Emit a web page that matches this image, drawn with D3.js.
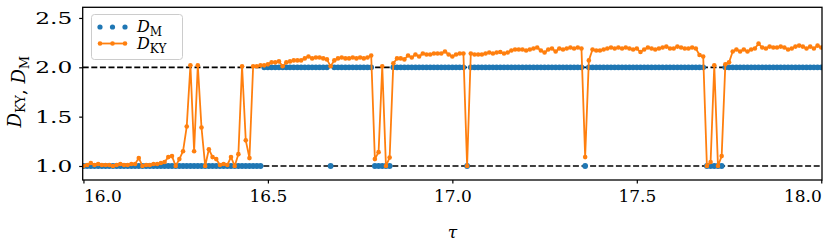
<!DOCTYPE html>
<html>
<head>
<meta charset="utf-8">
<script src="https://cdn.jsdelivr.net/npm/d3@7"></script>
<style>
  html, body { margin: 0; padding: 0; background: #fff; }
  svg { display: block; }
  svg text { font-family: "DejaVu Serif", serif; }
</style>
</head>
<body>
<svg id="chart" width="830" height="249"></svg>
<script>
// Sample grid: tau from 16.00 to 18.00, one sample every 0.01
const tauStart = 16.0;
const tauStep = 0.01;
const sampleCount = 201;

// Kaplan-Yorke dimension (one value per sample)
const dKY = [
    1.00, 1.01, 1.03, 1.01, 1.02, 1.01, 1.01, 1.01, 1.00, 1.01,
    1.02, 1.01, 1.01, 1.02, 1.02, 1.08, 1.00, 1.01, 1.01, 1.02,
    1.02, 1.03, 1.04, 1.09, 1.10, 1.00, 1.07, 1.15, 1.40, 2.02,
    1.15, 2.02, 1.39, 1.00, 1.17, 1.09, 1.07, 1.01, 1.02, 1.01,
    1.09, 1.00, 1.12, 2.01, 1.26, 1.08, 2.01, 2.01, 2.02, 2.02,
    2.03, 2.05, 2.05, 2.06, 2.01, 2.05, 2.06, 2.07, 2.07, 2.07,
    2.09, 2.11, 2.09, 2.10, 2.10, 2.09, 2.08, 2.01, 2.07, 2.09,
    2.10, 2.09, 2.09, 2.10, 2.09, 2.10, 2.09, 2.10, 2.12, 1.07,
    1.14, 2.01, 1.00, 1.085, 2.04, 2.09, 2.09, 2.08, 2.12, 2.10,
    2.13, 2.11, 2.14, 2.13, 2.13, 2.14, 2.14, 2.14, 2.16, 2.13,
    2.11, 2.13, 2.14, 2.14, 1.00, 2.14, 2.13, 2.13, 2.13, 2.14,
    2.15, 2.14, 2.15, 2.155, 2.14, 2.15, 2.17, 2.18, 2.18, 2.18,
    2.17, 2.18, 2.19, 2.20, 2.17, 2.15, 2.18, 2.19, 2.16, 2.19,
    2.18, 2.19, 2.20, 2.19, 2.20, 2.19, 1.09, 2.07, 2.18, 2.17,
    2.17, 2.18, 2.19, 2.20, 2.19, 2.20, 2.19, 2.20, 2.19, 2.18,
    2.19, 2.155, 2.18, 2.20, 2.19, 2.18, 2.19, 2.20, 2.21, 2.19,
    2.19, 2.21, 2.20, 2.19, 2.19, 2.20, 2.19, 2.125, 2.11, 1.00,
    1.04, 2.02, 1.00, 1.10, 2.03, 2.05, 2.16, 2.18, 2.16, 2.18,
    2.16, 2.18, 2.19, 2.24, 2.20, 2.19, 2.21, 2.20, 2.20, 2.21,
    2.20, 2.18, 2.19, 2.21, 2.22, 2.21, 2.19, 2.21, 2.19, 2.22,
    2.20
];

// Integer dimension D_M (one value per sample)
const dM = [
    1, 1, 1, 1, 1, 1, 1, 1, 1, 1, 1, 1, 1, 1, 1, 1, 1, 1, 1, 1,
    1, 1, 1, 1, 1, 1, 1, 1, 1, 1, 1, 1, 1, 1, 1, 1, 1, 1, 1, 1,
    1, 1, 1, 1, 1, 1, 1, 1, 1, 2, 2, 2, 2, 2, 2, 2, 2, 2, 2, 2,
    2, 2, 2, 2, 2, 2, 2, 1, 2, 2, 2, 2, 2, 2, 2, 2, 2, 2, 2, 1,
    1, 1, 1, 1, 2, 2, 2, 2, 2, 2, 2, 2, 2, 2, 2, 2, 2, 2, 2, 2,
    2, 2, 2, 2, 1, 2, 2, 2, 2, 2, 2, 2, 2, 2, 2, 2, 2, 2, 2, 2,
    2, 2, 2, 2, 2, 2, 2, 2, 2, 2, 2, 2, 2, 2, 2, 2, 1, 2, 2, 2,
    2, 2, 2, 2, 2, 2, 2, 2, 2, 2, 2, 2, 2, 2, 2, 2, 2, 2, 2, 2,
    2, 2, 2, 2, 2, 2, 2, 2, 2, 1, 1, 1, 1, 1, 2, 2, 2, 2, 2, 2,
    2, 2, 2, 2, 2, 2, 2, 2, 2, 2, 2, 2, 2, 2, 2, 2, 2, 2, 2, 2,
    2
];

const xTicks = [16.0, 16.5, 17.0, 17.5, 18.0];
const yTicks = [1.0, 1.5, 2.0, 2.5];
const refLevels = [1.0, 2.0];

const BLUE = '#1f77b4';
const ORANGE = '#ff7f0e';

const tau = d3.range(sampleCount).map(i => +(tauStart + i * tauStep).toFixed(2));
const kyPoints = tau.map((t, i) => ({ t, v: dKY[i] }));
const mPoints = tau.map((t, i) => ({ t, v: dM[i] }));

const svg = d3.select('#chart');
const plot = { left: 82.7, right: 822, top: 7.3, bottom: 180 };

const x = d3.scaleLinear().domain([15.998, 18.002]).range([plot.left, plot.right]);
const y = d3.scaleLinear().domain([0.858, 2.608]).range([plot.bottom, plot.top]);

// clip data to the axes box
svg.append('defs').append('clipPath').attr('id', 'clip')
    .append('rect')
    .attr('x', plot.left).attr('y', plot.top)
    .attr('width', plot.right - plot.left).attr('height', plot.bottom - plot.top);

const data = svg.append('g').attr('clip-path', 'url(#clip)');

// dashed reference lines at integer dimensions
data.selectAll('line.ref')
    .data(refLevels)
    .join('line')
    .attr('class', 'ref')
    .attr('x1', plot.left).attr('x2', plot.right)
    .attr('y1', d => y(d)).attr('y2', d => y(d))
    .attr('stroke', '#000')
    .attr('stroke-width', 1.7)
    .attr('stroke-dasharray', '6,2.6');

// D_M as markers only
data.append('g')
    .selectAll('circle')
    .data(mPoints)
    .join('circle')
    .attr('cx', d => x(d.t))
    .attr('cy', d => y(d.v))
    .attr('r', 2.9)
    .attr('fill', BLUE);

// D_KY as line with markers
const line = d3.line().x(d => x(d.t)).y(d => y(d.v));
data.append('path')
    .datum(kyPoints)
    .attr('d', line)
    .attr('fill', 'none')
    .attr('stroke', ORANGE)
    .attr('stroke-width', 1.8)
    .attr('stroke-linejoin', 'round');

data.append('g')
    .selectAll('circle')
    .data(kyPoints)
    .join('circle')
    .attr('cx', d => x(d.t))
    .attr('cy', d => y(d.v))
    .attr('r', 2.3)
    .attr('fill', ORANGE);

// axes
const fontSize = 17;
const xAxis = svg.append('g')
    .attr('transform', `translate(0,${plot.bottom})`)
    .call(d3.axisBottom(x).tickValues(xTicks).tickFormat(d3.format('.1f')).tickSize(3.5).tickPadding(6));
const yAxis = svg.append('g')
    .attr('transform', `translate(${plot.left},0)`)
    .call(d3.axisLeft(y).tickValues(yTicks).tickFormat(d3.format('.1f')).tickSize(3.5).tickPadding(7));

[xAxis, yAxis].forEach(ax => {
    ax.attr('font-family', null).attr('font-size', null);
    ax.select('.domain').remove();
    ax.selectAll('.tick line').attr('stroke', '#000').attr('stroke-width', 1.2);
    ax.selectAll('.tick text')
        .attr('fill', '#000')
        .attr('font-size', fontSize + 'px');
});

// end labels sit inside the axis span, as in the original
xAxis.selectAll('.tick text')
    .attr('text-anchor', (d, i, n) => i === 0 ? 'start' : (i === n.length - 1 ? 'end' : 'middle'));

// the y tick labels are set wider in the original
yAxis.selectAll('.tick text')
    .attr('textLength', 37)
    .attr('lengthAdjust', 'spacingAndGlyphs');

// frame
svg.append('rect')
    .attr('x', plot.left).attr('y', plot.top)
    .attr('width', plot.right - plot.left).attr('height', plot.bottom - plot.top)
    .attr('fill', 'none')
    .attr('stroke', '#000')
    .attr('stroke-width', 1.3);

// D with a roman subscript
function dimLabel(sel, sub, subSize) {
    sel.append('tspan').attr('font-style', 'italic').text('D');
    sel.append('tspan').attr('font-size', subSize + 'px').attr('dy', 4).text(sub);
    sel.append('tspan').attr('dy', -4).text('');
}

// y axis label
const yLabel = svg.append('text')
    .attr('transform', `translate(21,${(plot.top + plot.bottom) / 2 - 2}) rotate(-90)`)
    .attr('text-anchor', 'middle')
    .attr('font-size', '18px');
dimLabel(yLabel, 'KY', 13);
yLabel.append('tspan').text(', ');
dimLabel(yLabel, 'M', 13);

// x axis label
svg.append('text')
    .attr('x', (plot.left + plot.right) / 2)
    .attr('y', 238)
    .attr('text-anchor', 'middle')
    .attr('font-size', fontSize + 'px')
    .attr('font-style', 'italic')
    .text('τ');

// legend
const legend = svg.append('g');
legend.append('rect')
    .attr('x', 91.5).attr('y', 14.5)
    .attr('width', 91).attr('height', 45)
    .attr('rx', 3)
    .attr('fill', '#fff').attr('fill-opacity', 0.8)
    .attr('stroke', '#cccccc').attr('stroke-width', 1);

const handleX = [100, 112.5, 125];
legend.selectAll('circle.m')
    .data(handleX)
    .join('circle')
    .attr('class', 'm')
    .attr('cx', d => d).attr('cy', 27)
    .attr('r', 2.6)
    .attr('fill', BLUE);

legend.append('line')
    .attr('x1', 99).attr('x2', 126)
    .attr('y1', 43.5).attr('y2', 43.5)
    .attr('stroke', ORANGE).attr('stroke-width', 1.8);
legend.selectAll('circle.ky')
    .data(handleX)
    .join('circle')
    .attr('class', 'ky')
    .attr('cx', d => d).attr('cy', 43.5)
    .attr('r', 2.3)
    .attr('fill', ORANGE);

const legM = legend.append('text').attr('x', 137).attr('y', 32).attr('font-size', '16px');
dimLabel(legM, 'M', 12);
const legKY = legend.append('text').attr('x', 137).attr('y', 48.5).attr('font-size', '16px');
dimLabel(legKY, 'KY', 12);
</script>
</body>
</html>
